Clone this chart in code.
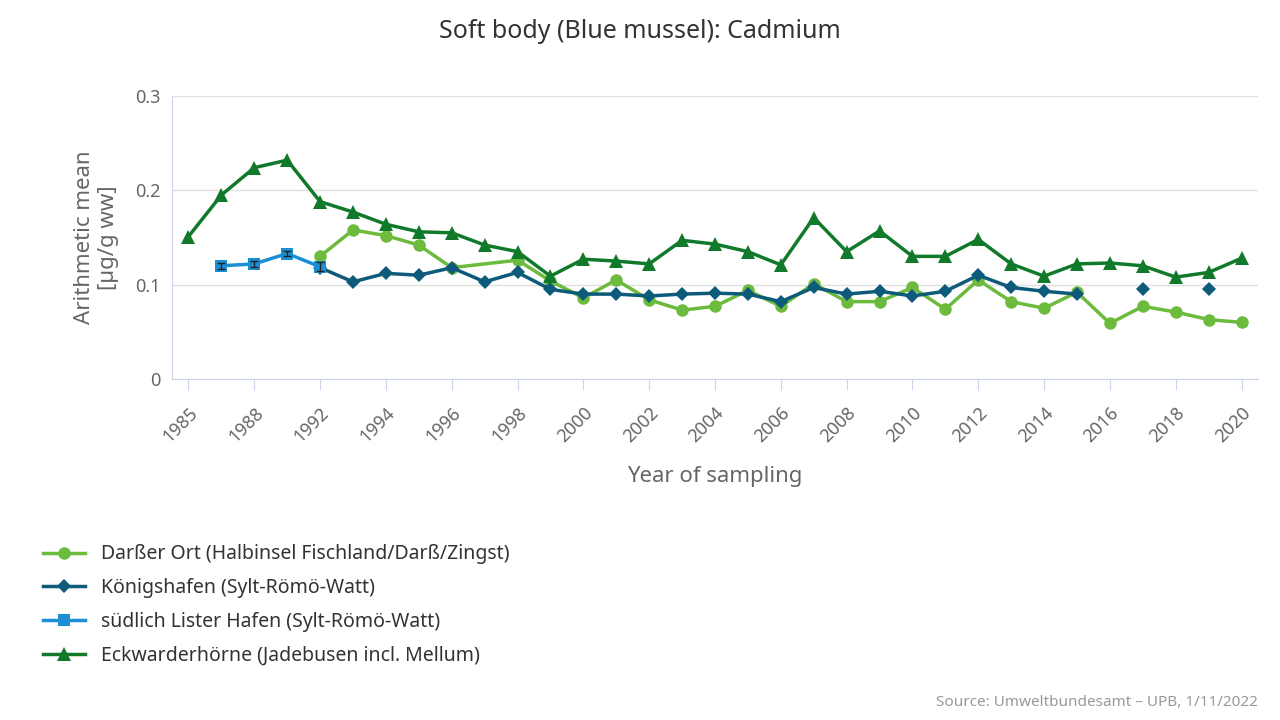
import numpy as np, pandas as pd, seaborn as sns, matplotlib
matplotlib.use("Agg")
import matplotlib.pyplot as plt
from matplotlib.lines import Line2D
plt.rcParams["font.family"] = "Noto Sans"

years = [1985, 1987, 1988, 1990] + list(range(1992, 2021))
n = np.nan
eck = [0.151,0.195,0.224,0.232,0.188,0.177,0.164,0.156,0.155,0.142,0.135,0.109,0.127,0.125,0.122,0.147,0.143,0.135,0.121,0.171,0.135,0.157,0.130,0.130,0.148,0.122,0.109,0.122,0.123,0.120,0.108,0.113,0.128]
dar = [n,n,n,n,0.130,0.158,0.152,0.142,0.118,n,0.126,0.104,0.086,0.105,0.084,0.073,0.077,0.094,0.077,0.101,0.082,0.082,0.097,0.074,0.105,0.082,0.075,0.092,0.059,0.077,0.071,0.063,0.060]
kon = [n,n,n,n,0.118,0.103,0.112,0.110,0.118,0.103,0.113,0.095,0.090,0.090,0.088,0.090,0.091,0.090,0.082,0.097,0.090,0.093,0.088,0.093,0.110,0.097,0.093,0.090,n,0.095,n,0.095,n]
lis = [n,0.120,0.122,0.133,0.119] + [n]*28

series = [
 ("Darßer Ort (Halbinsel Fischland/Darß/Zingst)", dar, "#6cbb3c", "o", False),
 ("Königshafen (Sylt-Römö-Watt)", kon, "#0d5a7a", "D", True),
 ("südlich Lister Hafen (Sylt-Römö-Watt)", lis, "#1a8fd4", "s", False),
 ("Eckwarderhörne (Jadebusen incl. Mellum)", eck, "#117a2a", "^", False),
]

fig = plt.figure(figsize=(12.8, 7.2), dpi=100)
ax = fig.add_axes([172/1280, 1-379/720, (1258-172)/1280, (379-96)/720])
x = np.arange(len(years))
handles = []
for name, vals, col, mk, brk in series:
    v = np.array(vals, float)
    seg = np.cumsum(np.isnan(v)) if brk else np.zeros(len(v))
    df = pd.DataFrame({"x": x, "y": v, "seg": seg}).dropna()
    ms = 9 if mk in "os" else (10 if mk == "^" else 7)
    sns.lineplot(data=df, x="x", y="y", units="seg", estimator=None, ax=ax,
                 color=col, marker=mk, markersize=ms, markeredgewidth=0, linewidth=2.5)
    handles.append(Line2D([], [], color=col, marker=mk, markersize=ms, markeredgewidth=0, linewidth=2.5, label=name))
for i in range(1, 5):
    ax.errorbar(x[i], lis[i], yerr=0.003 if i < 4 else 0.005, color="#222", capsize=3, lw=1)

ax.set_ylim(0, 0.3)
ax.set_xlim(-0.5, len(years)-0.5)
ax.set_yticks([0, 0.1, 0.2, 0.3])
ax.set_yticklabels(["0", "0.1", "0.2", "0.3"])
ax.set_xticks(x[::2])
ax.set_xticklabels([str(years[i]) for i in range(0, len(years), 2)], rotation=45, ha="right", rotation_mode="anchor")
ax.grid(axis="y", color="#e0e0e0", lw=1)
ax.set_axisbelow(True)
for s in ["top", "right"]:
    ax.spines[s].set_visible(False)
ax.spines["left"].set_color("#ccd6eb"); ax.spines["bottom"].set_color("#ccd6eb")
ax.tick_params(axis="both", colors="#666", labelsize=13, length=0, pad=8)
ax.tick_params(axis="x", length=8, color="#ccd6eb", pad=10)
ax.set_xlabel("Year of sampling", fontsize=16, color="#666", labelpad=14)
ax.set_ylabel("Arithmetic mean\n[µg/g ww]", fontsize=16, color="#666", labelpad=12)
fig.text(0.5, 1-32/720, "Soft body (Blue mussel): Cadmium", ha="center", va="center", fontsize=18, color="#333")
fig.legend(handles=handles, loc="upper left", bbox_to_anchor=(25/1280, 1-527/720), frameon=False,
           labelspacing=0.7, handlelength=2.2, prop={"weight": "bold", "size": 14, "family": "Noto Sans"})
for t in fig.legends[0].get_texts(): t.set_color("#333")
fig.text(1258/1280, 1-703/720, "Source: Umweltbundesamt – UPB, 1/11/2022", ha="right", va="center", fontsize=11, color="#999")
fig.savefig("out.png", dpi=100)
